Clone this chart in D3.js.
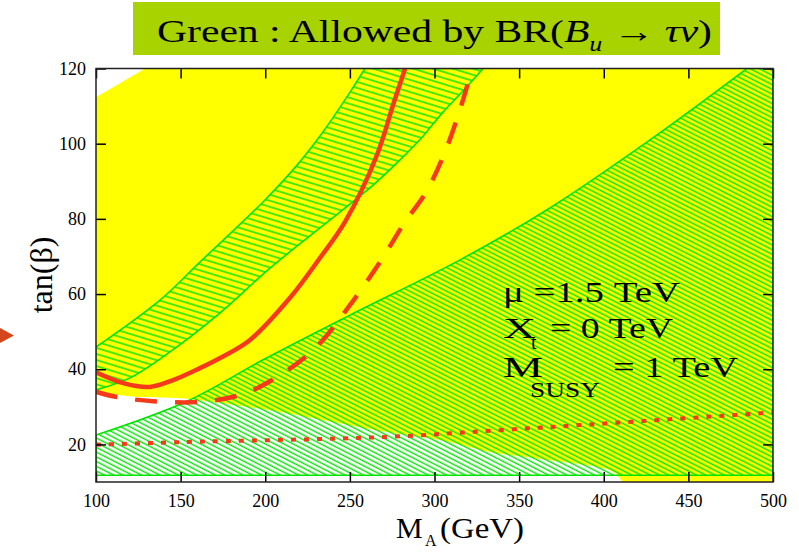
<!DOCTYPE html>
<html>
<head>
<meta charset="utf-8">
<script src="https://cdn.jsdelivr.net/npm/d3@7"></script>
<style>
body { margin: 0; background: #fff; }
svg { display: block; }
text { font-family: "Liberation Serif", "Times New Roman", serif; }
</style>
</head>
<body>
<svg id="chart" width="799" height="553"></svg>
<script>
// axis ticks
var xTicks = [100, 150, 200, 250, 300, 350, 400, 450, 500];
var yTicks = [20, 40, 60, 80, 100, 120];

// region edges, [M_A, tan(beta)]
var yellowTop = [[100, 112.4], [115, 116.3], [129, 120]];
var yellowBottom = [[100, 33.9], [126, 32.6], [149.6, 32.3], [169, 31.3], [208.7, 28.6],
  [267.8, 23.6], [303.2, 21.2], [332.8, 18.0], [366.5, 15.9], [405.5, 12.7], [410.8, 10]];

var upperBandLeft = [[100, 45.9], [137.8, 58.4], [161.4, 68.5], [198.7, 84.5], [218.8, 94.3],
  [234.1, 103.1], [250.1, 113.7], [258.9, 120]];
var upperBandRight = [[328.7, 120], [316.8, 114.0], [305.0, 108.4], [293.2, 102.0], [279.6, 95.7],
  [263.7, 89.0], [232.3, 77.6], [202.8, 66.9], [173.3, 55.0], [143.7, 44.6], [120.1, 37.7], [100, 34.5]];

var lowerBandTop = [[100, 22.5], [153.8, 31.5], [198.7, 42.5], [250.1, 54.4], [315.1, 69.1],
  [368.2, 82.9], [427.3, 101.0], [484.6, 120]];
var lowerBandFloor = 11.8;

// red curves
var solidCurve = [[100, 39.2], [116, 36.3], [131.9, 35.3], [145.5, 37.1], [161.4, 40.3], [173.3, 43.0],
  [191.0, 47.8], [214.6, 59.0], [232.3, 69.6], [247.1, 79.2], [266.0, 97.0], [275.5, 110.3], [282.6, 120]];
var dashedCurve = [[100, 34.0], [112.4, 32.6], [133.7, 31.5], [160.3, 31.3], [186.9, 33.4], [211.7, 39.3],
  [231.2, 46.4], [250.1, 57.1], [267.8, 68.5], [282.6, 79.2], [295.0, 87.1], [306.2, 97.8],
  [315.7, 110.0], [322.2, 120]];
var dottedCurve = [[100, 19.9], [149.6, 20.6], [271.9, 22.0], [338.7, 23.8], [405.5, 25.7], [500, 28.5]];

var svg = d3.select("#chart");
var defs = svg.append("defs");

var x = d3.scaleLinear().domain([100, 500]).range([96, 773]);
var y = d3.scaleLinear().domain([10, 120]).range([482, 68.5]);

defs.append("clipPath").attr("id", "plotclip")
  .append("rect")
  .attr("x", x(100)).attr("y", y(120))
  .attr("width", x(500) - x(100)).attr("height", y(10) - y(120));

function hatch(id, gap, angle) {
  var p = defs.append("pattern")
    .attr("id", id)
    .attr("patternUnits", "userSpaceOnUse")
    .attr("width", 20).attr("height", gap)
    .attr("patternTransform", "rotate(" + angle + ")");
  p.append("line")
    .attr("x1", 0).attr("x2", 20)
    .attr("y1", gap / 2).attr("y2", gap / 2)
    .attr("stroke", "#00e400")
    .attr("stroke-width", 1.4);
}
hatch("hatchUpper", 5.8, 17);
hatch("hatchLower", 4.2, 27);

function seg(pts, curve) {
  return d3.line()
    .x(function(d) { return x(d[0]); })
    .y(function(d) { return y(d[1]); })
    .curve(curve || d3.curveCatmullRom)(pts);
}
function join(parts) {
  return parts.map(function(p, i) { return i ? p.replace(/^M/, "L") : p; }).join("") + "Z";
}

// title box
svg.append("rect")
  .attr("x", 133).attr("y", 2)
  .attr("width", 587).attr("height", 53)
  .attr("fill", "#a8d300");

var title = svg.append("text")
  .attr("x", 157).attr("y", 42)
  .attr("font-size", 32)
  .attr("textLength", 555)
  .attr("lengthAdjust", "spacingAndGlyphs")
  .attr("fill", "#000");
title.append("tspan").text("Green :  Allowed by  BR(");
title.append("tspan").attr("font-style", "italic").text("B");
title.append("tspan").attr("font-style", "italic").attr("font-size", 20).attr("dy", 9).text("u");
title.append("tspan").attr("dy", -9).text(" \u2192 ");
title.append("tspan").attr("font-style", "italic").text("\u03c4\u03bd");
title.append("tspan").text(")");

// little arrow on the left
svg.append("path")
  .attr("d", "M0,328L14,335.5L0,343Z")
  .attr("fill", "#d4461c");

var plot = svg.append("g").attr("clip-path", "url(#plotclip)");

plot.append("path")
  .attr("d", join([
    seg(yellowTop),
    seg([[129, 120], [500, 120], [500, 10]], d3.curveLinear),
    seg(yellowBottom.slice().reverse())
  ]))
  .attr("fill", "#ffff00");

plot.append("path")
  .attr("d", join([
    seg(lowerBandTop),
    seg([[484.6, 120], [500, 120], [500, lowerBandFloor], [100, lowerBandFloor]], d3.curveLinear)
  ]))
  .attr("fill", "url(#hatchLower)")
  .attr("stroke", "#00e400")
  .attr("stroke-width", 1.6);

plot.append("path")
  .attr("d", join([
    seg(upperBandLeft),
    seg([[258.9, 120], [328.7, 120]], d3.curveLinear),
    seg(upperBandRight)
  ]))
  .attr("fill", "url(#hatchUpper)")
  .attr("stroke", "#00e400")
  .attr("stroke-width", 1.6);

var red = "#f5391a";
plot.append("path")
  .attr("d", seg(solidCurve))
  .attr("fill", "none").attr("stroke", red).attr("stroke-width", 4.5);
plot.append("path")
  .attr("d", seg(dashedCurve))
  .attr("fill", "none").attr("stroke", red).attr("stroke-width", 4.5)
  .attr("stroke-dasharray", "22,18");
plot.append("path")
  .attr("d", seg(dottedCurve))
  .attr("fill", "none").attr("stroke", red).attr("stroke-width", 4)
  .attr("stroke-dasharray", "5,8");

// axes, ticks pointing inward on all four sides
function styleAxis(g) {
  g.select(".domain").remove();
  g.selectAll(".tick line").attr("stroke", "#000").attr("stroke-width", 1.5);
  g.selectAll(".tick text")
    .attr("font-family", "Liberation Serif, serif")
    .attr("font-size", 18)
    .attr("fill", "#000");
}
svg.append("g")
  .attr("transform", "translate(" + x(100) + ",0)")
  .call(d3.axisLeft(y).tickValues(yTicks).tickSize(-10).tickPadding(10).tickFormat(d3.format("d")))
  .call(styleAxis);
svg.append("g")
  .attr("transform", "translate(0," + y(10) + ")")
  .call(d3.axisBottom(x).tickValues(xTicks).tickSize(-10).tickPadding(12).tickFormat(d3.format("d")))
  .call(styleAxis);
svg.append("g")
  .attr("transform", "translate(0," + y(120) + ")")
  .call(d3.axisTop(x).tickValues(xTicks).tickSize(-10).tickFormat(""))
  .call(styleAxis);
svg.append("g")
  .attr("transform", "translate(" + x(500) + ",0)")
  .call(d3.axisRight(y).tickValues(yTicks).tickSize(-10).tickFormat(""))
  .call(styleAxis);

svg.append("rect")
  .attr("x", x(100)).attr("y", y(120))
  .attr("width", x(500) - x(100)).attr("height", y(10) - y(120))
  .attr("fill", "none").attr("stroke", "#222").attr("stroke-width", 1.5);

// axis titles
svg.append("text")
  .attr("transform", "translate(52,275) rotate(-90)")
  .attr("text-anchor", "middle")
  .attr("font-size", 32)
  .text("tan(\u03b2)");

svg.append("text").attr("x", 396).attr("y", 538).attr("font-size", 30).text("M");
svg.append("text").attr("x", 425).attr("y", 546).attr("font-size", 16).text("A");
svg.append("text").attr("x", 440).attr("y", 538).attr("font-size", 30)
  .attr("textLength", 84).attr("lengthAdjust", "spacingAndGlyphs").text("(GeV)");

// parameter labels
svg.append("text").attr("x", 503).attr("y", 302).attr("font-size", 30)
  .attr("textLength", 177).attr("lengthAdjust", "spacingAndGlyphs").text("\u03bc =1.5 TeV");
svg.append("text").attr("x", 503).attr("y", 338).attr("font-size", 30)
  .attr("textLength", 33).attr("lengthAdjust", "spacingAndGlyphs").text("X");
svg.append("text").attr("x", 531).attr("y", 349).attr("font-size", 20).text("t");
svg.append("text").attr("x", 550).attr("y", 338).attr("font-size", 30)
  .attr("textLength", 123).attr("lengthAdjust", "spacingAndGlyphs").text("= 0 TeV");
svg.append("text").attr("x", 503).attr("y", 377).attr("font-size", 30)
  .attr("textLength", 40).attr("lengthAdjust", "spacingAndGlyphs").text("M");
svg.append("text").attr("x", 530).attr("y", 397).attr("font-size", 22)
  .attr("textLength", 70).attr("lengthAdjust", "spacingAndGlyphs").text("SUSY");
svg.append("text").attr("x", 613).attr("y", 377).attr("font-size", 30)
  .attr("textLength", 125).attr("lengthAdjust", "spacingAndGlyphs").text("= 1 TeV");
</script>
</body>
</html>
